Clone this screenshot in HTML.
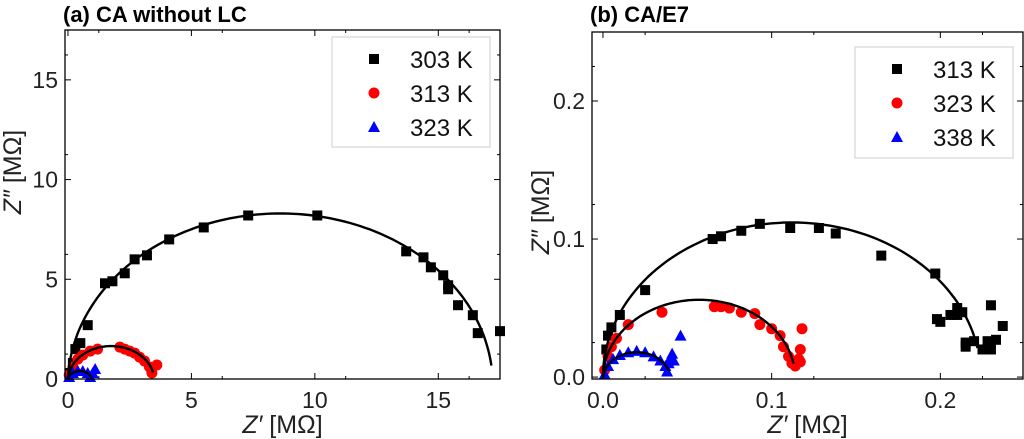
<!DOCTYPE html>
<html><head><meta charset="utf-8"><style>
html,body{margin:0;padding:0;background:#fff;}
svg{display:block;font-family:"Liberation Sans",sans-serif;}
</style></head><body>
<svg id="chart" width="1024" height="439" viewBox="0 0 1024 439" xmlns="http://www.w3.org/2000/svg"></svg>
<script>
// Panel A data
const aTicksX=[0,5,10,15];
const aTicksY=[0,5,10,15];
const a303X=[0.1,0.2,0.3,0.5,0.8,1.5,1.8,2.3,2.7,3.2,4.1,5.5,7.3,10.1,13.7,14.4,14.7,15.2,15.4,15.4,15.8,16.4,16.6,17.5];
const a303Y=[0.3,0.8,1.5,1.8,2.7,4.8,4.9,5.3,6.0,6.2,7.0,7.6,8.2,8.2,6.4,6.1,5.6,5.2,4.7,4.5,3.7,3.2,2.3,2.4];
const a313X=[0.05,0.2,0.4,0.6,0.9,1.2,2.1,2.3,2.5,2.7,2.9,3.1,3.3,3.4,3.6];
const a313Y=[0.2,0.6,1.0,1.2,1.4,1.5,1.6,1.5,1.4,1.3,1.1,0.9,0.6,0.3,0.7];
const a323X=[0.05,0.2,0.4,0.6,0.8,1.0,1.1,0.9];
const a323Y=[0.1,0.3,0.4,0.4,0.3,0.3,0.5,0.1];
const aFitC=[8.6,1.75,0.48];
const aFitH=[8.3,1.65,0.4];
const aFitEnd=[17.15,3.45,0.95];
// Panel B data
const bTicksX=[0,0.1,0.2];
const bTicksY=[0,0.1,0.2];
const b313X=[0.002,0.003,0.005,0.01,0.025,0.065,0.07,0.082,0.093,0.111,0.128,0.138,0.165,0.197,0.21,0.213,0.198,0.2,0.206,0.21,0.215,0.215,0.22,0.225,0.228,0.23,0.23,0.237,0.233];
const b313Y=[0.02,0.03,0.036,0.045,0.063,0.1,0.102,0.106,0.111,0.108,0.108,0.104,0.088,0.075,0.05,0.047,0.042,0.04,0.045,0.045,0.025,0.022,0.026,0.02,0.026,0.02,0.052,0.037,0.027];
const b323X=[0.001,0.003,0.005,0.008,0.015,0.035,0.066,0.07,0.075,0.082,0.09,0.093,0.1,0.105,0.107,0.11,0.112,0.114,0.116,0.117,0.118,0.117];
const b323Y=[0.005,0.015,0.022,0.028,0.038,0.047,0.051,0.051,0.05,0.047,0.046,0.038,0.035,0.03,0.022,0.015,0.01,0.008,0.013,0.02,0.035,0.011];
const b338X=[0.001,0.003,0.006,0.01,0.015,0.02,0.025,0.03,0.034,0.037,0.038,0.039,0.04,0.041,0.042,0.046];
const b338Y=[0.002,0.008,0.013,0.016,0.018,0.019,0.018,0.015,0.012,0.008,0.004,0.01,0.014,0.017,0.012,0.03];
const bFitC=[0.112,0.057,0.02];
const bFitH=[0.112,0.056,0.018];
const bFitEnd=[0.222,0.113,0.039];

const svg=document.getElementById('chart');
const NS='http://www.w3.org/2000/svg';
function mk(tag,attrs,parent){const e=document.createElementNS(NS,tag);for(const k in attrs)e.setAttribute(k,attrs[k]);(parent||svg).appendChild(e);return e;}
function lin(d0,d1,r0,r1){return v=>r0+(v-d0)/(d1-d0)*(r1-r0);}

function marker(g,type,px,py,color){
  let e;
  if(type==='sq') e=mk('rect',{x:px-5,y:py-5,width:10,height:10,fill:color},g);
  else if(type==='ci') e=mk('circle',{cx:px,cy:py,r:5.5,fill:color},g);
  else e=mk('polygon',{points:`${px},${py-6} ${px+6},${py+5} ${px-6},${py+5}`,fill:color},g);
  return e;
}

function panel(o){
  const g=mk('g',{});
  
  
  const X=lin(o.xd[0],o.xd[1],o.L,o.R), Y=lin(o.yd[0],o.yd[1],o.B,o.T);
  o.series.forEach(s=>{
    const sg=mk('g',{},g);
    
    
    s.x.forEach((xv,i)=>{
      const m=marker(sg,s.type,X(xv),Y(s.y[i]),s.color);
      
      
    });
  });
  o.fits.forEach(f=>{
    const c=f.c,h=f.h,r=(c*c+h*h)/(2*h),yc=h-r;
    const a0=Math.atan2(0-yc,0-c);
    const dx=Math.min(f.end-c,r*0.9999);
    const a1=Math.atan2(Math.sqrt(r*r-dx*dx),dx);
    let d='';
    for(let k=0;k<=120;k++){
      const t=a0+(a1-a0)*k/120;
      const xv=c+r*Math.cos(t), yv=yc+r*Math.sin(t);
      d+=(k?'L':'M')+X(xv).toFixed(1)+','+Y(yv).toFixed(1);
    }
    const p=mk('path',{d:d,fill:'none',stroke:'#000','stroke-width':2.4},g);
    
    
  });
  const fr=mk('rect',{x:o.L,y:o.T,width:o.R-o.L,height:o.B-o.T,fill:'none',stroke:'#000','stroke-width':1.3},g);
  
  
  o.tx.forEach(v=>{
    const px=X(v);
    mk('line',{x1:px,x2:px,y1:o.B,y2:o.B-6,stroke:'#000'},g);
    mk('line',{x1:px,x2:px,y1:o.T,y2:o.T+6,stroke:'#000'},g);
    const m=X(v+o.dx/2); if(m<o.R){mk('line',{x1:m,x2:m,y1:o.B,y2:o.B-3,stroke:'#000'},g);mk('line',{x1:m,x2:m,y1:o.T,y2:o.T+3,stroke:'#000'},g);}
    const t=mk('text',{x:px,y:o.B+29,'font-size':23,'text-anchor':'middle',fill:'#222'},g);
    t.textContent=o.fmtX(v);
    
    
  });
  o.ty.forEach(v=>{
    const py=Y(v);
    mk('line',{x1:o.L,x2:o.L+6,y1:py,y2:py,stroke:'#000'},g);
    mk('line',{x1:o.R,x2:o.R-6,y1:py,y2:py,stroke:'#000'},g);
    const m=Y(v+o.dy/2); if(m>o.T){mk('line',{x1:o.L,x2:o.L+3,y1:m,y2:m,stroke:'#000'},g);mk('line',{x1:o.R,x2:o.R-3,y1:m,y2:m,stroke:'#000'},g);}
    const t=mk('text',{x:o.L-7,y:py+8,'font-size':23,'text-anchor':'end',fill:'#222'},g);
    t.textContent=o.fmtY(v);
    
    
  });
  const xt=mk('text',{x:(o.L+o.R)/2,y:433,'font-size':25,'text-anchor':'middle',fill:'#222'},g);
  xt.innerHTML='<tspan font-style="italic">Z′</tspan> [MΩ]';
  
  
  const yt=mk('text',{x:0,y:0,'font-size':25,'text-anchor':'middle',fill:'#222',transform:`translate(${o.ytx},${o.yty}) rotate(-90)`},g);
  yt.innerHTML='<tspan font-style="italic">Z″</tspan> [MΩ]';
  
  
  const ti=mk('text',{x:o.L-2,y:22,'font-size':22,'font-weight':'bold',fill:'#000'},g);
  ti.textContent=o.title;
  
  
  const lg=mk('g',{},g);
  
  
  mk('rect',{x:o.lg[0],y:o.lg[1],width:o.lg[2],height:o.lg[3],fill:'#fff',stroke:'#ccc'},lg);
  o.series.forEach((s,i)=>{
    const cy=o.lg[1]+22+i*34;
    const m=marker(lg,s.type,o.lg[0]+42,cy,s.color);
    
    
    const t=mk('text',{x:o.lg[0]+78,y:cy+9,'font-size':24,fill:'#111'},lg);
    t.textContent=s.label;
    
    
  });
}

panel({name:'panel-a',title:'(a) CA without LC',L:65,R:500,T:30,B:379,xd:[-0.12,17.5],yd:[0,17.5],
  tx:aTicksX,ty:aTicksY,dx:2.5,dy:2.5,fmtX:v=>String(v),fmtY:v=>String(v),ytx:21,yty:172,lg:[332,37,158,110],
  fits:aFitC.map((c,i)=>({c:c,h:aFitH[i],end:aFitEnd[i]})),
  series:[{label:'303 K',type:'sq',color:'#000',x:a303X,y:a303Y},
          {label:'313 K',type:'ci',color:'#f00',x:a313X,y:a313Y},
          {label:'323 K',type:'tr',color:'#00f',x:a323X,y:a323Y}]});
panel({name:'panel-b',title:'(b) CA/E7',L:592,R:1023,T:32,B:379,xd:[-0.0065,0.249],yd:[-0.0014,0.2500],
  tx:bTicksX,ty:bTicksY,dx:0.05,dy:0.05,fmtX:v=>v.toFixed(1),fmtY:v=>v.toFixed(1),ytx:549,yty:212,lg:[855,47,158,111],
  fits:bFitC.map((c,i)=>({c:c,h:bFitH[i],end:bFitEnd[i]})),
  series:[{label:'313 K',type:'sq',color:'#000',x:b313X,y:b313Y},
          {label:'323 K',type:'ci',color:'#f00',x:b323X,y:b323Y},
          {label:'338 K',type:'tr',color:'#00f',x:b338X,y:b338Y}]});
</script>
</body></html>
